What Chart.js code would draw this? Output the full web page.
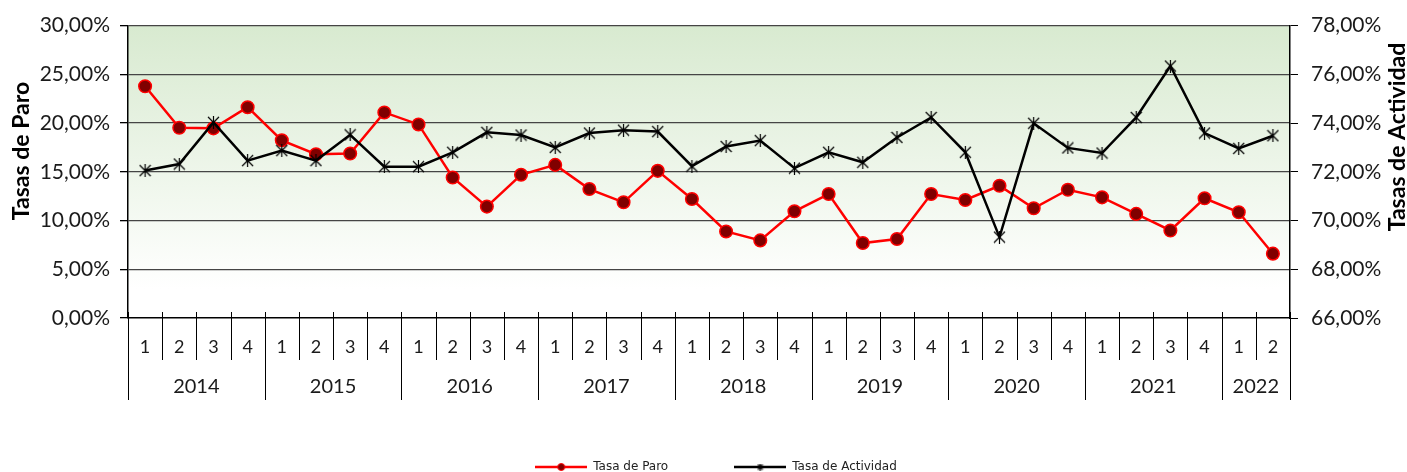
<!DOCTYPE html>
<html>
<head>
<meta charset="utf-8">
<script src="https://cdn.jsdelivr.net/npm/chart.js@4.4.0/dist/chart.umd.min.js"></script>
<style>
  html, body { margin: 0; padding: 0; background: #fff; }
  #wrap { width: 1407px; height: 472px; }
</style>
</head>
<body>
<div id="wrap"><canvas id="grafico"></canvas></div>
<script>
// trimestres 2014T1 .. 2022T2
const trimestres = [
  '1','2','3','4', '1','2','3','4', '1','2','3','4', '1','2','3','4',
  '1','2','3','4', '1','2','3','4', '1','2','3','4', '1','2','3','4',
  '1','2'
];
const anios = ['2014', '2015', '2016', '2017', '2018', '2019', '2020', '2021', '2022'];
const trimestresPorAnio = [4, 4, 4, 4, 4, 4, 4, 4, 2];

const tasaParo = [
  23.78, 19.52, 19.46, 21.63, 18.23, 16.80, 16.87, 21.09,
  19.86, 14.42, 11.43, 14.69, 15.71, 13.23, 11.87, 15.10,
  12.21, 8.88, 7.96, 10.95, 12.72, 7.69, 8.10, 12.72,
  12.11, 13.57, 11.26, 13.16, 12.38, 10.68, 8.98, 12.28,
  10.85, 6.60
];
const tasaActividad = [
  72.05, 72.32, 74.03, 72.46, 72.87, 72.46, 73.52, 72.21,
  72.21, 72.80, 73.62, 73.51, 73.00, 73.59, 73.71, 73.65,
  72.23, 73.04, 73.28, 72.15, 72.80, 72.39, 73.41, 74.23,
  72.80, 69.32, 73.99, 72.98, 72.77, 74.23, 76.34, 73.59,
  72.96, 73.48
];

const fuente = 'Lato, "DejaVu Sans", sans-serif';
const fuenteLeyenda = '"DejaVu Sans", sans-serif';
const porcentaje = v => v.toFixed(2).replace('.', ',') + '%';

// marcador estrella (aspa + vertical), como el de Excel
function estrella(tam, grosor) {
  const c = document.createElement('canvas');
  c.width = tam; c.height = tam;
  const g = c.getContext('2d');
  g.strokeStyle = '#000';
  g.lineWidth = grosor;
  const m = tam / 2, e = 1;
  g.beginPath();
  g.moveTo(e, e); g.lineTo(tam - e, tam - e);
  g.moveTo(tam - e, e); g.lineTo(e, tam - e);
  g.moveTo(m, 0); g.lineTo(m, tam);
  g.stroke();
  return c;
}

// muestras de la leyenda: linea con marcador
function muestra(color, tipo) {
  const c = document.createElement('canvas');
  c.width = 52; c.height = 10;
  const g = c.getContext('2d');
  g.strokeStyle = color;
  g.lineWidth = 2.5;
  g.beginPath(); g.moveTo(0, 5); g.lineTo(52, 5); g.stroke();
  if (tipo === 'circulo') {
    g.fillStyle = '#800000';
    g.lineWidth = 1;
    g.beginPath(); g.arc(26, 5, 3.5, 0, Math.PI * 2); g.fill(); g.stroke();
  } else {
    g.drawImage(estrella(7, 1.2), 22.5, 1.5);
  }
  return c;
}
const muestras = [muestra('#000000', 'estrella'), muestra('#ff0000', 'circulo')];

function textoVertical(ctx, texto, x, y) {
  ctx.save();
  ctx.translate(x, y);
  ctx.rotate(-Math.PI / 2);
  ctx.textAlign = 'center';
  ctx.textBaseline = 'middle';
  ctx.fillText(texto, 0, 0);
  ctx.restore();
}

const decoracion = {
  id: 'decoracion',
  beforeDraw(chart) {
    const { ctx, chartArea: a, scales } = chart;
    const yBlanco = scales.yParo.getPixelForValue(3);
    const g = ctx.createLinearGradient(0, a.top, 0, yBlanco);
    g.addColorStop(0, '#d8ead0');
    g.addColorStop(1, '#ffffff');
    ctx.save();
    ctx.fillStyle = g;
    ctx.fillRect(a.left, a.top, a.right - a.left, a.bottom - a.top);
    ctx.restore();
  },
  afterDraw(chart) {
    const { ctx, chartArea: a, scales: { x } } = chart;
    ctx.save();
    // separadores de trimestres y anios
    const limites = new Set([0]);
    let acum = 0;
    trimestresPorAnio.forEach(n => { acum += n; limites.add(acum); });
    ctx.strokeStyle = '#000';
    ctx.lineWidth = 1;
    for (let i = 0; i <= trimestres.length; i++) {
      const px = Math.round(x.getPixelForValue(i - 0.5)) + 0.5;
      ctx.beginPath();
      ctx.moveTo(px, a.bottom - 6);
      ctx.lineTo(px, limites.has(i) ? a.bottom + 82 : a.bottom + 42);
      ctx.stroke();
    }
    // etiquetas de anio
    ctx.fillStyle = '#1a1a1a';
    ctx.font = '20px ' + fuente;
    ctx.textAlign = 'center';
    ctx.textBaseline = 'middle';
    acum = 0;
    anios.forEach((anio, k) => {
      const n = trimestresPorAnio[k];
      const cx = (x.getPixelForValue(acum - 0.5) + x.getPixelForValue(acum + n - 0.5)) / 2;
      ctx.fillText(anio, cx, a.bottom + 69);
      acum += n;
    });
    // titulos de los ejes
    ctx.fillStyle = '#000';
    ctx.font = 'bold 23px ' + fuente;
    textoVertical(ctx, 'Tasas de Paro', 22, 151);
    textoVertical(ctx, 'Tasas de Actividad', 1398, 137);
    ctx.restore();
  }
};

const config = {
  type: 'line',
  data: {
    labels: trimestres,
    datasets: [
      {
        label: 'Tasa de Actividad',
        data: tasaActividad,
        yAxisID: 'yActividad',
        borderColor: '#000000',
        borderWidth: 2.5,
        pointStyle: estrella(13, 1.2),
        pointRadius: 6,
        tension: 0
      },
      {
        label: 'Tasa de Paro',
        data: tasaParo,
        yAxisID: 'yParo',
        borderColor: '#ff0000',
        borderWidth: 2.5,
        pointStyle: 'circle',
        pointRadius: 6.3,
        pointBorderWidth: 1.5,
        pointBackgroundColor: '#800000',
        pointBorderColor: '#ff0000',
        tension: 0
      }
    ]
  },
  options: {
    responsive: true,
    maintainAspectRatio: false,
    animation: false,
    events: [],
    layout: { padding: { top: 24, left: 8, right: -17, bottom: -11 } },
    scales: {
      x: {
        offset: true,
        grid: { offset: true, drawOnChartArea: false, drawTicks: false },
        border: { color: '#000', width: 1.5 },
        ticks: {
          color: '#1a1a1a',
          font: { family: fuente, size: 18 },
          padding: 18,
          autoSkip: false,
          maxRotation: 0
        },
        afterFit: s => { s.height = 77; }
      },
      yParo: {
        position: 'left',
        min: 0,
        max: 30,
        ticks: {
          stepSize: 5,
          color: '#1a1a1a',
          font: { family: fuente, size: 21 },
          padding: 10,
          callback: v => porcentaje(v)
        },
        grid: {
          color: c => (c.tick && c.tick.value === 0) ? 'rgba(0,0,0,0)' : '#454545',
          tickColor: '#000',
          tickLength: 8,
          lineWidth: 1.3
        },
        border: { color: '#000', width: 1.5 },
        afterFit: s => { s.width = 120; }
      },
      yActividad: {
        position: 'right',
        min: 66,
        max: 78,
        ticks: {
          stepSize: 2,
          color: '#1a1a1a',
          font: { family: fuente, size: 21 },
          padding: 13,
          callback: v => porcentaje(v)
        },
        grid: { drawOnChartArea: false, tickColor: '#000', tickLength: 8 },
        border: { color: '#000', width: 1.5 },
        afterFit: s => { s.width = 134; }
      }
    },
    plugins: {
      tooltip: { enabled: false },
      legend: {
        position: 'bottom',
        reverse: true,
        labels: {
          usePointStyle: true,
          pointStyleWidth: 52,
          padding: 66,
          color: '#222',
          font: { family: fuenteLeyenda, size: 12 },
          generateLabels(chart) {
            const items = Chart.defaults.plugins.legend.labels.generateLabels(chart);
            items.forEach(it => { it.pointStyle = muestras[it.datasetIndex]; });
            return items;
          }
        }
      }
    }
  },
  plugins: [decoracion]
};

new Chart(document.getElementById('grafico'), config);
</script>
</body>
</html>
